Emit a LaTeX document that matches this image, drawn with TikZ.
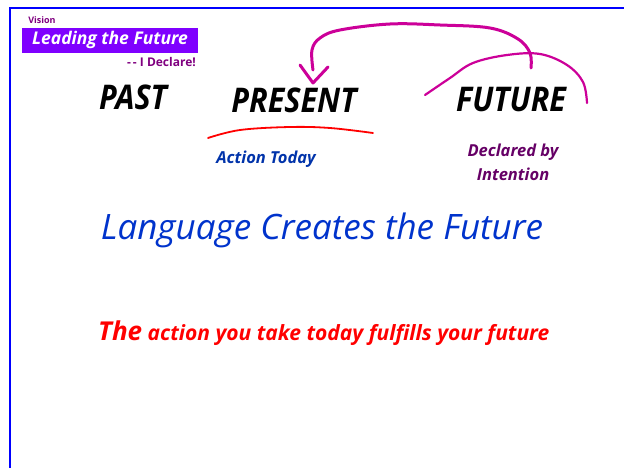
\documentclass[tikz,border=0pt]{standalone}
\usepackage{fontspec}
\setmainfont{Open Sans}
\newfontfamily\narrowfont[FakeStretch=0.9]{Open Sans}
\usetikzlibrary{calc}
\definecolor{visionpurple}{RGB}{128,0,128}
\definecolor{boxviolet}{RGB}{127,0,255}
\definecolor{actionblue}{RGB}{0,51,170}
\definecolor{declpurple}{RGB}{102,0,102}
\definecolor{langblue}{RGB}{0,51,204}
\definecolor{arcmagenta}{RGB}{204,0,153}

\begin{document}
\begin{tikzpicture}[x=1pt, y=-1pt,
  word/.style={font=\narrowfont\bfseries\itshape\fontsize{34}{34}\selectfont, inner sep=0pt, anchor=base},
  note/.style={font=\bfseries\itshape\fontsize{16.5}{24}\selectfont, inner sep=0pt, align=center}]
\useasboundingbox (0,0) rectangle (624,468);
\fill[white] (0,0) rectangle (624,468);
% Draw frame
\draw[blue, line width=2pt] (10,468) -- (10,8) -- (624,8);
% Heading
\node[font=\bfseries\fontsize{9}{9}\selectfont, text=visionpurple, inner sep=0pt] (vision) at (42,20) {Vision};
\fill[boxviolet] (22,28) rectangle (198,53);
\node[font=\bfseries\itshape\fontsize{17.5}{17.5}\selectfont, text=white, inner sep=0pt] (lead) at (110,40) {Leading the Future};
\node[font=\bfseries\fontsize{12}{12}\selectfont, text=visionpurple, inner sep=0pt, anchor=east] (declare) at (196,62) {-\,-\ I Declare!};
% Three words
\node[word] (past) at (133,110) {PAST};
\node[word] (present) at (294,113) {PRESENT};
\node[word] (future) at (511,112) {FUTURE};
% Underline present
\draw[red, line width=1.8pt, line cap=round] plot[smooth, tension=0.6] coordinates {(208,138) (240,130) (290,127) (330,128) (373,133)};
\node[note, text=actionblue] (action) at (266,159) {Action Today};
\node[note, text=declpurple] (declared) at (513,162) {Declared by\\Intention};
% Arrow from future back to present
\coordinate (from) at (531,68);
\coordinate (to) at (313,70);
\draw[arcmagenta, line width=3pt, line cap=round, line join=round] plot[smooth, tension=0.6] coordinates {(from) (530,53) (518,39) (490,28) (440,25) (390,24) (340,30) (320,38) (312,50) (to)};
\draw[arcmagenta, line width=3pt, line cap=round, line join=round] (300,65) -- (313,83) -- (328,67);
% Arc over future
\draw[arcmagenta, line width=2.2pt, line cap=round] plot[smooth, tension=0.6] coordinates {(425,95) (450,78) (473,63) (507,55) (540,54) (567,65) (583,82) (587,103)};
% Statements
\node[font=\itshape\fontsize{35}{35}\selectfont, text=langblue, inner sep=0pt] (lang) at (322,230) {Language Creates the Future};
\node[font=\bfseries\itshape\fontsize{21}{21}\selectfont, text=red, inner sep=0pt, anchor=base west] (fulfil) at (98,340) {{\fontsize{26}{26}\selectfont The} action you take today fulfills your future};
\end{tikzpicture}
\end{document}
